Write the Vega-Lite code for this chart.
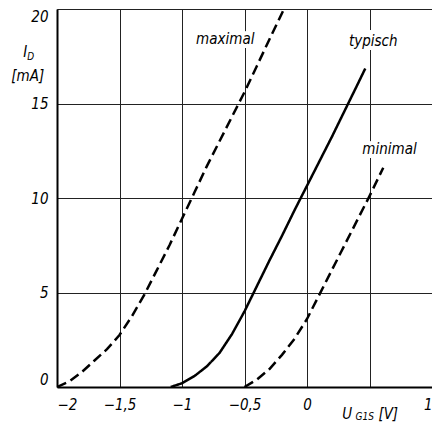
{
  "$schema": "https://vega.github.io/schema/vega-lite/v6.json",
  "width": 375,
  "height": 378,
  "autosize": "none",
  "padding": {"left": 57, "top": 9, "right": 0, "bottom": 39},
  "background": "white",
  "config": {
    "view": {"stroke": null},
    "font": "DejaVu Sans Condensed, Liberation Sans, sans-serif",
    "axis": {
      "labelFont": "DejaVu Sans Condensed, Liberation Sans, sans-serif",
      "labelFontStyle": "italic",
      "labelFontSize": 15,
      "labelColor": "black",
      "ticks": false,
      "gridColor": "#222",
      "gridWidth": 1,
      "gridOpacity": 1,
      "domainColor": "black",
      "domainWidth": 2,
      "title": null
    },
    "text": {"font": "DejaVu Sans Condensed, Liberation Sans, sans-serif", "fontStyle": "italic"}
  },
  "datasets": {
    "curves": [
      {"series": "maximal", "u": -2.0, "i": 0},
      {"series": "maximal", "u": -1.9, "i": 0.3},
      {"series": "maximal", "u": -1.8, "i": 0.8},
      {"series": "maximal", "u": -1.7, "i": 1.4},
      {"series": "maximal", "u": -1.6, "i": 2.0},
      {"series": "maximal", "u": -1.5, "i": 2.75},
      {"series": "maximal", "u": -1.4, "i": 3.75},
      {"series": "maximal", "u": -1.3, "i": 4.9},
      {"series": "maximal", "u": -1.2, "i": 6.2},
      {"series": "maximal", "u": -1.1, "i": 7.5},
      {"series": "maximal", "u": -1.0, "i": 8.9},
      {"series": "maximal", "u": -0.9, "i": 10.3},
      {"series": "maximal", "u": -0.8, "i": 11.7},
      {"series": "maximal", "u": -0.7, "i": 13.0},
      {"series": "maximal", "u": -0.6, "i": 14.3},
      {"series": "maximal", "u": -0.5, "i": 15.6},
      {"series": "maximal", "u": -0.4, "i": 17.0},
      {"series": "maximal", "u": -0.3, "i": 18.4},
      {"series": "maximal", "u": -0.184, "i": 20},
      {"series": "typisch", "u": -1.09, "i": 0},
      {"series": "typisch", "u": -1.0, "i": 0.2},
      {"series": "typisch", "u": -0.9, "i": 0.58},
      {"series": "typisch", "u": -0.8, "i": 1.1},
      {"series": "typisch", "u": -0.7, "i": 1.8},
      {"series": "typisch", "u": -0.6, "i": 2.8},
      {"series": "typisch", "u": -0.5, "i": 4.0},
      {"series": "typisch", "u": -0.4, "i": 5.35},
      {"series": "typisch", "u": -0.3, "i": 6.7},
      {"series": "typisch", "u": -0.2, "i": 8.0},
      {"series": "typisch", "u": -0.1, "i": 9.35},
      {"series": "typisch", "u": 0.0, "i": 10.65},
      {"series": "typisch", "u": 0.1, "i": 11.95},
      {"series": "typisch", "u": 0.2, "i": 13.25},
      {"series": "typisch", "u": 0.3, "i": 14.6},
      {"series": "typisch", "u": 0.4, "i": 15.95},
      {"series": "typisch", "u": 0.466, "i": 16.85},
      {"series": "minimal", "u": -0.5, "i": 0},
      {"series": "minimal", "u": -0.4, "i": 0.4},
      {"series": "minimal", "u": -0.3, "i": 0.95},
      {"series": "minimal", "u": -0.2, "i": 1.7},
      {"series": "minimal", "u": -0.1, "i": 2.55},
      {"series": "minimal", "u": 0.0, "i": 3.6},
      {"series": "minimal", "u": 0.1, "i": 4.9},
      {"series": "minimal", "u": 0.2, "i": 6.2},
      {"series": "minimal", "u": 0.3, "i": 7.5},
      {"series": "minimal", "u": 0.4, "i": 8.8},
      {"series": "minimal", "u": 0.5, "i": 10.1},
      {"series": "minimal", "u": 0.61, "i": 11.6}
    ],
    "labels": [
      {"label": "maximal", "u": -0.654, "i": 18.4},
      {"label": "typisch", "u": 0.53, "i": 18.3},
      {"label": "minimal", "u": 0.66, "i": 12.6}
    ],
    "titleMain": [
      {"text": "I", "u": -2.254, "i": 17.7},
      {"text": "[mA]", "u": -2.234, "i": 16.45},
      {"text": "U", "u": 0.322, "i": -1.43},
      {"text": "[V]", "u": 0.65, "i": -1.43}
    ],
    "titleSub": [
      {"text": "D", "u": -2.21, "i": 17.45},
      {"text": "G1S", "u": 0.462, "i": -1.6}
    ]
  },
  "layer": [
    {
      "data": {"name": "curves"},
      "mark": {"type": "line", "strokeWidth": 2.5, "color": "black", "clip": true},
      "encoding": {
        "x": {
          "field": "u", "type": "quantitative",
          "scale": {"domain": [-2, 1], "nice": false, "zero": false},
          "axis": {
            "values": [-2, -1.5, -1, -0.5, 0, 0.5, 1],
            "grid": true,
            "labelPadding": 10,
            "labelFlush": true,
            "labelOverlap": false,
            "labelExpr": "datum.value == 0.5 ? '' : replace(format(datum.value, '.1~f'), '.', ',')"
          }
        },
        "y": {
          "field": "i", "type": "quantitative",
          "scale": {"domain": [0, 20], "nice": false},
          "axis": {
            "values": [0, 5, 10, 15, 20],
            "grid": true,
            "labelPadding": 9,
            "labelFlush": true,
            "labelOverlap": false
          }
        },
        "detail": {"field": "series"},
        "strokeDash": {
          "field": "series", "type": "nominal",
          "scale": {"domain": ["maximal", "typisch", "minimal"], "range": [[10, 5], [1, 0], [10, 5]]},
          "legend": null
        }
      }
    },
    {
      "mark": {"type": "rule", "strokeWidth": 3, "color": "black"},
      "encoding": {"y": {"datum": 20}}
    },
    {
      "data": {"name": "labels"},
      "mark": {"type": "text", "fontSize": 15, "stroke": "white", "strokeWidth": 8, "fill": "white", "baseline": "middle", "align": "center"},
      "encoding": {
        "x": {"field": "u", "type": "quantitative"},
        "y": {"field": "i", "type": "quantitative"},
        "text": {"field": "label"}
      }
    },
    {
      "data": {"name": "labels"},
      "mark": {"type": "text", "fontSize": 15, "fill": "black", "baseline": "middle", "align": "center"},
      "encoding": {
        "x": {"field": "u", "type": "quantitative"},
        "y": {"field": "i", "type": "quantitative"},
        "text": {"field": "label"}
      }
    },
    {
      "data": {"name": "titleMain"},
      "mark": {"type": "text", "fontSize": 15, "fill": "black", "baseline": "middle", "align": "center", "clip": false},
      "encoding": {
        "x": {"field": "u", "type": "quantitative"},
        "y": {"field": "i", "type": "quantitative"},
        "text": {"field": "text"}
      }
    },
    {
      "data": {"name": "titleSub"},
      "mark": {"type": "text", "fontSize": 10, "fill": "black", "baseline": "middle", "align": "center", "clip": false},
      "encoding": {
        "x": {"field": "u", "type": "quantitative"},
        "y": {"field": "i", "type": "quantitative"},
        "text": {"field": "text"}
      }
    }
  ]
}
